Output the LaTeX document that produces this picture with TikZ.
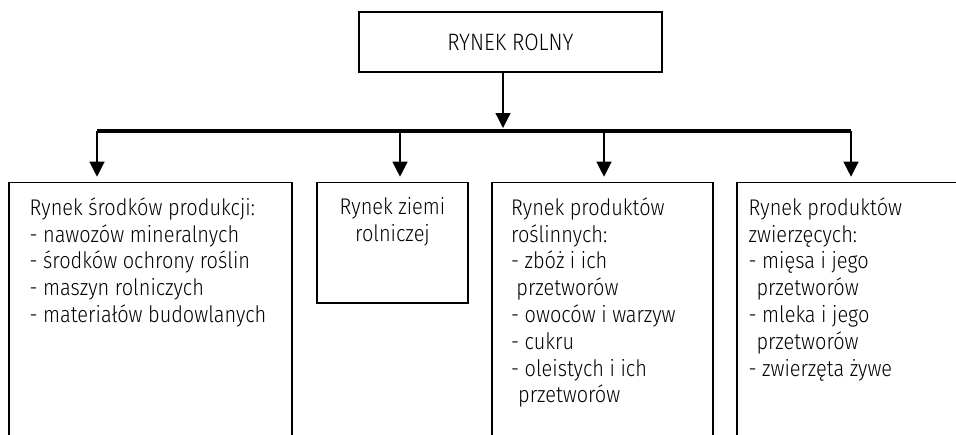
\documentclass[tikz,border=0pt]{standalone}
\usepackage{fontspec}
\setmainfont{Fira Sans}[UprightFont=* Light, FakeStretch=0.88]
\usepackage{tikz}
\usetikzlibrary{positioning, arrows.meta}
\tikzset{
  box/.style={draw, line width=0.8pt, anchor=north, inner sep=0pt},
  txt/.style={font=\fontsize{12.9}{15.25}\selectfont, align=left, inner sep=0pt},
  tr/.style={-{Triangle[length=3mm, width=3mm]}, line width=0.7pt},
  bus/.style={line width=1.8pt}
}

\begin{document}
\begin{tikzpicture}
  \clip (0,0) rectangle (19.12,-8.68);
  % Top box
  \node[draw, line width=0.8pt, minimum width=6.06cm, minimum height=1.2cm,
        font=\fontsize{13.5}{15.25}\selectfont] (rr) at (10.21,-0.84) {RYNEK ROLNY};
  \coordinate (hub) at (10.06,-2.62);
  \draw[tr, shorten >=0.06cm] (rr.south -| hub) -- (hub);
  % Bus
  \coordinate (b1) at (1.94,-2.62);
  \coordinate (b2) at (8.00,-2.62);
  \coordinate (b3) at (12.08,-2.62);
  \coordinate (b4) at (17.02,-2.62);
  \draw[bus] (b1) -- (b4);
  % Markets
  \node[box, minimum width=5.66cm, minimum height=5.4cm] (m1) at (3.01,-3.634) {};
  \node[box, minimum width=3.02cm, minimum height=2.41cm] (m2) at (7.85,-3.634) {};
  \node[box, minimum width=4.42cm, minimum height=5.4cm] (m3) at (12.05,-3.634) {};
  \node[box, minimum width=4.80cm, minimum height=5.4cm] (m4) at (17.14,-3.634) {};
  \foreach \i in {1,...,4}
    \draw[tr, shorten >=0.1cm] (b\i) -- (b\i |- m\i.north);
  \node[txt, below right=0.31cm and 0.42cm of m1.north west] (t1)
    {Rynek środków produkcji:\\- nawozów mineralnych\\- środków ochrony roślin\\- maszyn rolniczych\\- materiałów budowlanych};
  \node[txt, align=center, below=0.31cm of m2.north] (t2) {Rynek ziemi\\rolniczej};
  \node[txt, below right=0.31cm and 0.39cm of m3.north west] (t3)
    {Rynek produktów\\roślinnych:\\- zbóż i ich\\\hspace*{3pt}przetworów\\- owoców i warzyw\\- cukru\\- oleistych i ich\\\hspace*{4pt}przetworów};
  \node[txt, below right=0.31cm and 0.24cm of m4.north west] (t4)
    {Rynek produktów\\zwierzęcych:\\- mięsa i jego\\\hspace*{4.5pt}przetworów\\- mleka i jego\\\hspace*{4.5pt}przetworów\\- zwierzęta żywe};
\end{tikzpicture}
\end{document}
